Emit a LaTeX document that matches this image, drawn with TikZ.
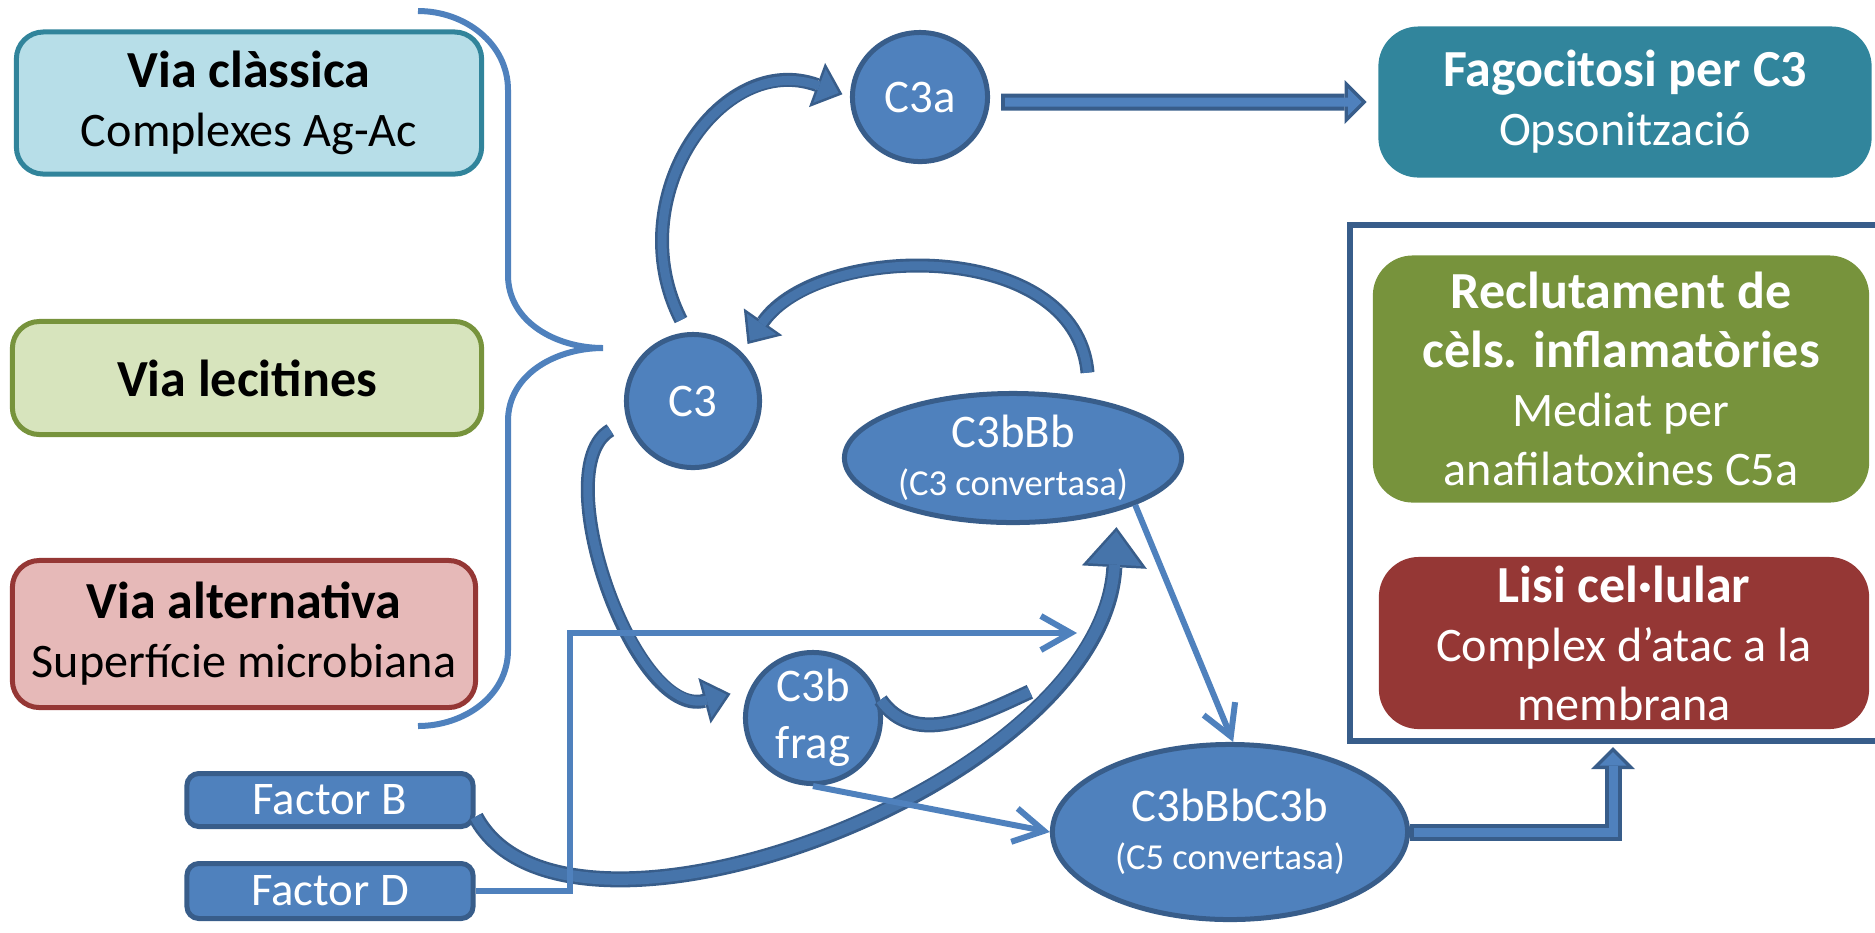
\documentclass[tikz,border=0pt]{standalone}
\usepackage{fontspec}
\setmainfont{Carlito}
\usetikzlibrary{arrows.meta,shapes.geometric}
\definecolor{cblau}{HTML}{4F81BD}
\definecolor{cblaufosc}{HTML}{385D8A}
\definecolor{cblaumig}{HTML}{4674AA}
\definecolor{cclassica}{HTML}{B7DEE8}
\definecolor{cclassicavora}{HTML}{31849B}
\definecolor{clecitines}{HTML}{D7E4BD}
\definecolor{clecitinesvora}{HTML}{77933C}
\definecolor{calternativa}{HTML}{E6B9B8}
\definecolor{calternativavora}{HTML}{953735}
\definecolor{cfago}{HTML}{31859C}
\definecolor{creclut}{HTML}{77933C}
\definecolor{clisi}{HTML}{953735}
\newcommand{\titfont}{\fontsize{14.8}{16.8}\selectfont\bfseries}
\newcommand{\cosfont}{\fontsize{13.7}{16.8}\selectfont}
\newcommand{\bolafont}{\fontsize{13.3}{16.2}\selectfont}
\newcommand{\petitfont}{\fontsize{10.4}{13.7}\selectfont}
\begin{document}
\begin{tikzpicture}[x=0.01cm,y=0.01cm,
  via/.style={rectangle,rounded corners=2.7mm,line width=0.5mm,text=black,font=\cosfont},
  efecte/.style={rectangle,rounded corners=4mm,text=white,font=\cosfont,minimum width=4.93cm},
  marc/.style={rectangle,draw=cblaufosc,line width=0.6mm},
  bola/.style={ellipse,draw=cblaufosc,fill=cblau,line width=0.5mm,text=white,font=\bolafont},
  factor/.style={rectangle,rounded corners=1.2mm,draw=cblaufosc,fill=cblau,line width=0.5mm,
    text=white,font=\bolafont,minimum width=2.86cm,minimum height=0.53cm},
  clau/.style={draw=cblau,line width=0.6mm},
  fletxa/.style={draw=cblau,line width=0.6mm,line join=miter,-{Straight Barb[length=3mm,width=3.4mm]}},
  corba/.style={draw=cblaufosc,line width=1.4mm,shorten >=#1,
    -{Triangle[length=2.7mm,width=4.7mm,line width=0pt]},
    postaction={draw=cblaumig,line width=0.9mm,shorten >=#1+0.4mm,
      -{Triangle[length=2.05mm,width=3.6mm,line width=0pt]}}},
  corbagran/.style={draw=cblaufosc,line width=1.6mm,shorten >=#1,
    -{Triangle[length=4mm,width=6.5mm,line width=0pt]},
    postaction={draw=cblaumig,line width=1.1mm,shorten >=#1+0.4mm,
      -{Triangle[length=3.35mm,width=5.4mm,line width=0pt]}}},
  cua/.style={draw=cblaufosc,line width=1.5mm,postaction={draw=cblaumig,line width=1mm}},
  buida/.style={draw=cblaufosc,line width=1.7mm,line join=miter,
    -{Triangle[length=2.2mm,width=4.4mm,line width=0pt]},
    postaction={draw=cblau,line width=0.9mm,shorten >=0.5mm,shorten <=0.4mm,
      -{Triangle[length=1.35mm,width=2.7mm,line width=0pt]}}}]
\useasboundingbox (0,0) rectangle (1875,-932);
\tikzstyle{every node}+=[inner sep=0pt,align=center]
\node[via,fill=cclassica,draw=cclassicavora,minimum width=4.65cm,minimum height=1.42cm] (classica) at (249,-103) {{\titfont Via clàssica}\\Complexes Ag-Ac};
\node[via,fill=clecitines,draw=clecitinesvora,minimum width=4.69cm,minimum height=1.13cm] (lecitines) at (247,-378) {{\titfont Via lecitines}};
\node[via,fill=calternativa,draw=calternativavora,minimum width=4.63cm,minimum height=1.47cm] (alternativa) at (244,-634) {{\titfont Via alternativa}\\Superfície microbiana};
\node[marc,minimum width=5.5cm,minimum height=5.16cm] (grup) at (1625,-483) {};
\node[efecte,fill=cfago,minimum height=1.51cm] (fago) at (1625,-102) {{\titfont Fagocitosi per C3}\\Opsonització};
\node[efecte,fill=creclut,minimum width=4.96cm,minimum height=2.47cm] (reclut) at (1621,-379) {{\titfont Reclutament de}\\{\titfont cèls. inflamatòries}\\Mediat per\\anafilatoxines C5a};
\node[efecte,fill=clisi,minimum width=4.9cm,minimum height=1.72cm] (lisi) at (1624,-643) {{\titfont Lisi cel·lular}\\Complex d’atac a la\\membrana};
\node[bola,minimum width=1.33cm,minimum height=1.33cm] (c3) at (693,-401) {C3};
\node[bola,minimum width=1.35cm,minimum height=1.29cm] (c3a) at (920,-97) {C3a};
\node[bola,minimum width=3.37cm,minimum height=1.29cm,font=\fontsize{13.3}{13.7}\selectfont] (c3bbb) at (1013,-458) {C3bBb\\{\petitfont (C3 convertasa)}};
\node[bola,minimum width=1.35cm,minimum height=1.31cm,inner sep=-1.5pt] (c3bf) at (813,-718) {C3b\\frag};
\node[bola,minimum width=3.55cm,minimum height=1.75cm,font=\fontsize{13.3}{13.7}\selectfont] (c3bbc) at (1230,-832) {C3bBbC3b\\{\petitfont (C5 convertasa)}};
\node[factor] (fb) at (330,-800) {Factor B};
\node[factor,minimum height=0.55cm] (fd) at (330,-891) {Factor D};
\coordinate (fdend) at (1077,-633);
\draw[clau] (418,-11) to[out=0,in=90] (508,-90) -- (508,-275) to[out=-90,in=180] (603,-348) coordinate (clau)
  to[out=180,in=90] (508,-421) -- (508,-650) to[out=-90,in=0] (418,-726);
\draw[corbagran=1.6mm] ([yshift=-0.4mm]fb.-5) .. controls +(-62:190) and +(-93:275) .. (c3bbb.-27) coordinate[pos=0.76] (unio);
\draw[cua] (c3bf.15) to[out=-55,in=205] (unio);
\draw[corba=0.8mm] ([yshift=1.3mm]c3.100) to[out=117,in=160,looseness=1.25] (c3a.west);
\draw[corba=1mm] ([yshift=2.5mm]c3bbb.39) to[out=95,in=55] (c3.45);
\draw[corba=2mm] ([xshift=-2mm]c3.205) .. controls +(210:75) and +(195:120) .. (c3bf.155);
\draw[fletxa] (fd.east) -- ++(94,0) |- (fdend);
\draw[fletxa] (c3bbb.-21) -- (c3bbc.88);
\draw[fletxa] (c3bf.south) -- (c3bbc.west);
\draw[buida] ([xshift=1.1mm,yshift=-0.5mm]c3a.east) -- ([xshift=-1.1mm]fago.west);
\draw[buida] (c3bbc.east) -| ([xshift=-1.2mm,yshift=-0.3mm]grup.south);
\end{tikzpicture}
\end{document}
